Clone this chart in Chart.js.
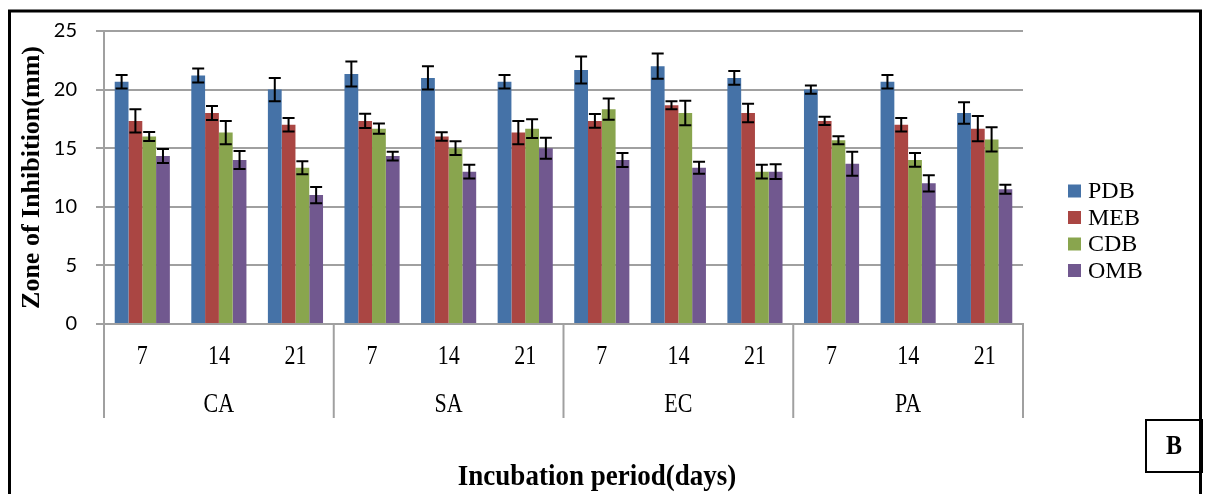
<!DOCTYPE html>
<html>
<head>
<meta charset="utf-8">
<script src="https://cdn.jsdelivr.net/npm/chart.js@4.4.1/dist/chart.umd.min.js"></script>
<style>
  html, body { margin: 0; padding: 0; background: #fff; }
  #wrap { width: 1209px; height: 494px; position: relative; }
</style>
</head>
<body>
<div id="wrap"><canvas id="zoneChart"></canvas></div>
<script>
const groups = ['CA', 'SA', 'EC', 'PA'];
const days = ['7', '14', '21', '7', '14', '21', '7', '14', '21', '7', '14', '21'];

const pdb = [20.67, 21.2, 20, 21.33, 21, 20.67, 21.67, 22, 21, 20, 20.67, 18];
const meb = [17.33, 18, 17, 17.33, 16, 16.33, 17.33, 18.67, 18, 17.33, 17, 16.67];
const cdb = [16, 16.33, 13.33, 16.67, 15, 16.67, 18.33, 18, 13, 15.67, 14, 15.75];
const omb = [14.33, 14, 11, 14.33, 13, 15, 14, 13.33, 13, 13.67, 12, 11.5];

const pdbErr = [0.57, 0.6, 1.0, 1.07, 1.0, 0.58, 1.16, 1.08, 0.58, 0.35, 0.58, 0.92];
const mebErr = [1.0, 0.6, 0.58, 0.6, 0.37, 1.0, 0.58, 0.34, 0.79, 0.35, 0.58, 1.08];
const cdbErr = [0.38, 1.0, 0.55, 0.43, 0.59, 0.8, 0.9, 1.04, 0.59, 0.34, 0.58, 1.04];
const ombErr = [0.6, 0.77, 0.69, 0.37, 0.59, 0.9, 0.6, 0.52, 0.62, 1.02, 0.7, 0.38];

const serif = "'Liberation Serif', 'Times New Roman', serif";
const gridGray = '#a0a0a0';

// text a bit taller than wide, like the source picture
function tallText(ctx, txt, x, y, sy) {
  ctx.save();
  ctx.translate(x, y);
  ctx.scale(1, sy);
  ctx.fillText(txt, 0, 0);
  ctx.restore();
}

// error bars on top of each bar
const errorBars = {
  id: 'errorBars',
  afterDatasetsDraw(chart) {
    const ctx = chart.ctx;
    const y = chart.scales.y;
    ctx.save();
    ctx.strokeStyle = '#000';
    ctx.lineWidth = 2;
    chart.data.datasets.forEach((ds, i) => {
      const meta = chart.getDatasetMeta(i);
      meta.data.forEach((bar, j) => {
        const v = ds.data[j], e = ds.errors[j];
        const top = y.getPixelForValue(v + e);
        const bot = y.getPixelForValue(v - e);
        ctx.beginPath();
        ctx.moveTo(bar.x, top); ctx.lineTo(bar.x, bot);
        ctx.moveTo(bar.x - 6, top); ctx.lineTo(bar.x + 6, top);
        ctx.moveTo(bar.x - 6, bot); ctx.lineTo(bar.x + 6, bot);
        ctx.stroke();
      });
    });
    ctx.restore();
  }
};

// two level category axis, legend, frame and panel letter
const decorations = {
  id: 'decorations',
  afterDraw(chart) {
    const ctx = chart.ctx;
    const x = chart.scales.x;
    const base = chart.chartArea.bottom;
    ctx.save();

    // group separators
    ctx.strokeStyle = gridGray;
    ctx.lineWidth = 2;
    const bounds = [x.left];
    for (let g = 1; g < groups.length; g++) {
      bounds.push((x.getPixelForValue(g * 3 - 1) + x.getPixelForValue(g * 3)) / 2);
    }
    bounds.push(x.right);
    bounds.forEach(bx => {
      ctx.beginPath();
      ctx.moveTo(bx, base);
      ctx.lineTo(bx, base + 94);
      ctx.stroke();
    });

    ctx.fillStyle = '#000';
    ctx.textAlign = 'center';
    ctx.textBaseline = 'middle';
    ctx.font = '22px ' + serif;
    days.forEach((d, i) => tallText(ctx, d, x.getPixelForValue(i), base + 33, 1.25));
    groups.forEach((g, i) => tallText(ctx, g, (bounds[i] + bounds[i + 1]) / 2, base + 81, 1.25));

    ctx.font = 'bold 27px ' + serif;
    tallText(ctx, 'Incubation period(days)', 597, 477, 1.1);

    // legend
    ctx.textAlign = 'left';
    ctx.font = '24px ' + serif;
    chart.data.datasets.forEach((ds, i) => {
      const ly = 191 + i * 26.5;
      ctx.fillStyle = ds.backgroundColor;
      ctx.fillRect(1068, ly - 6.5, 13, 13);
      ctx.fillStyle = '#000';
      ctx.fillText(ds.label, 1088, ly + 1);
    });

    // panel letter box
    ctx.strokeStyle = '#000';
    ctx.lineWidth = 2;
    ctx.strokeRect(1146, 420, 56, 52);
    ctx.font = 'bold 24px ' + serif;
    ctx.textAlign = 'center';
    tallText(ctx, 'B', 1174, 447, 1.15);

    // outer frame
    ctx.lineWidth = 3;
    ctx.strokeRect(9.5, 11, 1191, 500);
    ctx.restore();
  }
};

new Chart(document.getElementById('zoneChart'), {
  type: 'bar',
  data: {
    labels: days,
    datasets: [
      { label: 'PDB', data: pdb, errors: pdbErr, backgroundColor: '#4572A7' },
      { label: 'MEB', data: meb, errors: mebErr, backgroundColor: '#AA4643' },
      { label: 'CDB', data: cdb, errors: cdbErr, backgroundColor: '#89A54E' },
      { label: 'OMB', data: omb, errors: ombErr, backgroundColor: '#71588F' }
    ]
  },
  options: {
    responsive: true,
    maintainAspectRatio: false,
    animation: false,
    layout: {
      padding: { left: 12, top: 27, right: 186, bottom: 170 }
    },
    datasets: {
      bar: { categoryPercentage: 0.72, barPercentage: 1.0 }
    },
    plugins: {
      legend: { display: false },
      tooltip: { enabled: false }
    },
    scales: {
      x: {
        ticks: { display: false },
        grid: { display: false },
        border: { display: true, color: gridGray, width: 2 },
        afterFit(s) { s.height = 0; }
      },
      y: {
        min: 0,
        max: 25,
        ticks: {
          stepSize: 5,
          padding: 19,
          color: '#000',
          font: { family: "Lato, 'Open Sans', sans-serif", size: 20 }
        },
        grid: { color: gridGray, lineWidth: 2, tickLength: 8 },
        border: { display: true, color: gridGray, width: 2 },
        title: {
          display: true,
          text: 'Zone of Inhibition(mm)',
          color: '#000',
          padding: { top: 5, bottom: 0 },
          font: { family: serif, size: 26, weight: 'bold' }
        },
        afterFit(s) { s.width = 92; }
      }
    }
  },
  plugins: [errorBars, decorations]
});
</script>
</body>
</html>
